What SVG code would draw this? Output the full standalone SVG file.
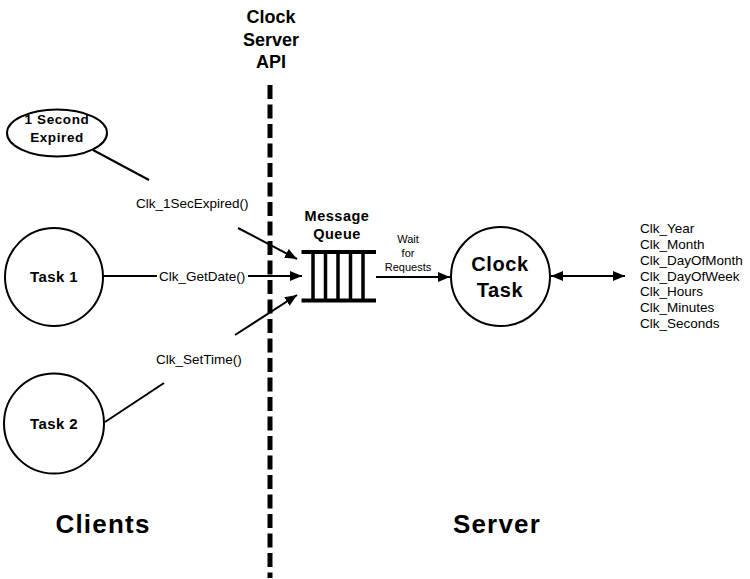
<svg xmlns="http://www.w3.org/2000/svg" width="750" height="579" viewBox="0 0 750 579">
<style>
.b{font-family:"Liberation Sans",Arial,sans-serif;font-weight:bold;fill:#000}
.r{font-family:"Liberation Sans",Arial,sans-serif;font-size:13.5px;fill:#000}
.s{font-family:"Liberation Sans",Arial,sans-serif;font-size:11px;fill:#000}
.ln{stroke:#000;stroke-width:2;fill:none}
.nd{stroke:#000;stroke-width:2;fill:#fff}
</style>
<defs>
<marker id="ah" viewBox="0 0 12 10" refX="12" refY="5" markerWidth="12" markerHeight="10" markerUnits="userSpaceOnUse" orient="auto-start-reverse">
<path d="M0,0 L12,5 L0,10 Z" fill="#000"/>
</marker>
</defs>
<rect width="750" height="579" fill="#fff"/>
<g id="api-label">
<text class="b" font-size="18" text-anchor="middle" x="271" y="23">Clock</text>
<text class="b" font-size="18" text-anchor="middle" x="271" y="46">Server</text>
<text class="b" font-size="18" text-anchor="middle" x="271" y="68">API</text>
</g>
<g id="api-line">
<line x1="270" y1="85" x2="270" y2="578" stroke="#000" stroke-width="5" stroke-dasharray="14,5.5"/>
</g>
<g id="connectors">
<line class="ln" x1="93" y1="150" x2="149" y2="180"/>
<text class="r" x="136" y="208">Clk_1SecExpired()</text>
<line class="ln" x1="238" y1="228" x2="297" y2="259" marker-end="url(#ah)"/>
<line class="ln" x1="103" y1="276" x2="157" y2="276"/>
<text class="r" x="159" y="281">Clk_GetDate()</text>
<line class="ln" x1="248" y1="276" x2="302" y2="276" marker-end="url(#ah)"/>
<line class="ln" x1="105" y1="422" x2="164" y2="383"/>
<text class="r" x="156" y="364">Clk_SetTime()</text>
<line class="ln" x1="235" y1="335" x2="297" y2="295" marker-end="url(#ah)"/>
<line class="ln" x1="376" y1="277" x2="450" y2="277" marker-end="url(#ah)"/>
<text class="s" text-anchor="middle" x="408" y="243">Wait</text>
<text class="s" text-anchor="middle" x="408" y="257">for</text>
<text class="s" text-anchor="middle" x="408" y="271">Requests</text>
<line class="ln" x1="551" y1="276" x2="625" y2="276" marker-start="url(#ah)" marker-end="url(#ah)"/>
</g>
<g id="one-second">
<ellipse class="nd" cx="57" cy="133" rx="50" ry="23.5"/>
<text class="b" font-size="13.5" letter-spacing="0.6" text-anchor="middle" x="57" y="124">1 Second</text>
<text class="b" font-size="13.5" letter-spacing="0.6" text-anchor="middle" x="57" y="142">Expired</text>
</g>
<g id="task1">
<circle class="nd" cx="54" cy="277" r="49"/>
<text class="b" font-size="15" letter-spacing="0.4" text-anchor="middle" x="54" y="282">Task 1</text>
</g>
<g id="task2">
<circle class="nd" cx="54" cy="423.5" r="50"/>
<text class="b" font-size="15" letter-spacing="0.4" text-anchor="middle" x="54" y="429">Task 2</text>
</g>
<g id="queue">
<text class="b" font-size="14.5" letter-spacing="0.5" text-anchor="middle" x="337" y="221">Message</text>
<text class="b" font-size="14.5" letter-spacing="0.5" text-anchor="middle" x="337" y="239">Queue</text>
<line x1="301.5" y1="252" x2="376" y2="252" stroke="#000" stroke-width="4"/>
<line x1="301.5" y1="300.5" x2="376" y2="300.5" stroke="#000" stroke-width="4"/>
<g stroke="#000" stroke-width="3.5">
<line x1="313" y1="252" x2="313" y2="300"/>
<line x1="325.5" y1="252" x2="325.5" y2="300"/>
<line x1="338" y1="252" x2="338" y2="300"/>
<line x1="350.5" y1="252" x2="350.5" y2="300"/>
<line x1="363" y1="252" x2="363" y2="300"/>
</g>
</g>
<g id="clock-task">
<circle class="nd" cx="500.5" cy="276.5" r="49.5"/>
<text class="b" font-size="20" letter-spacing="0.6" text-anchor="middle" x="500" y="271">Clock</text>
<text class="b" font-size="20" letter-spacing="0.6" text-anchor="middle" x="500" y="297">Task</text>
</g>
<g id="variables">
<text class="r" x="640" y="233">Clk_Year</text>
<text class="r" x="640" y="249">Clk_Month</text>
<text class="r" x="640" y="264.5">Clk_DayOfMonth</text>
<text class="r" x="640" y="280.5">Clk_DayOfWeek</text>
<text class="r" x="640" y="296">Clk_Hours</text>
<text class="r" x="640" y="312">Clk_Minutes</text>
<text class="r" x="640" y="328">Clk_Seconds</text>
</g>
<g id="section-labels">
<text class="b" font-size="26" letter-spacing="1.2" text-anchor="middle" x="103" y="533">Clients</text>
<text class="b" font-size="26" letter-spacing="1.2" text-anchor="middle" x="497" y="533">Server</text>
</g>
</svg>
